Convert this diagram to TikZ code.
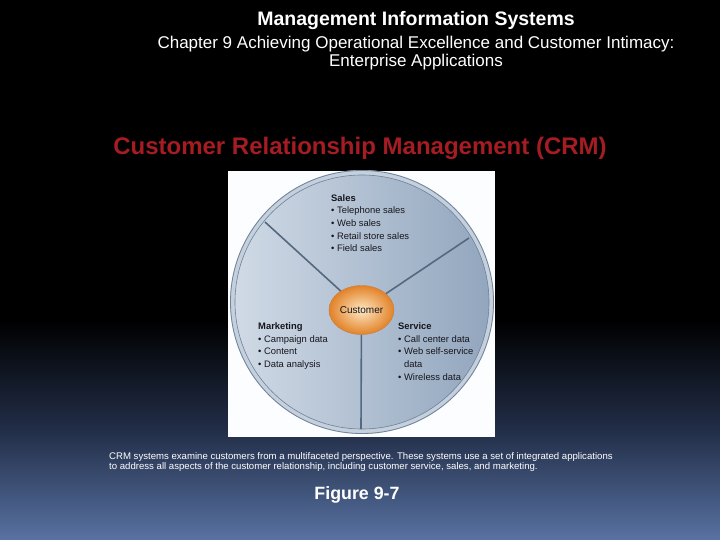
\documentclass[tikz,border=0pt]{standalone}
\usepackage{fontspec}
\setmainfont{Liberation Sans}
\usetikzlibrary{calc, shapes.geometric, positioning}
\definecolor{crmred}{RGB}{165,28,35}
\definecolor{bgmid}{RGB}{34,46,72}
\definecolor{bgbot}{RGB}{88,114,162}
\definecolor{panelwhite}{RGB}{252,253,255}
\definecolor{rimfill}{RGB}{196,208,222}
\definecolor{rimline}{RGB}{112,130,150}
\definecolor{disclight}{RGB}{208,218,230}
\definecolor{discdark}{RGB}{146,166,190}
\definecolor{divider}{RGB}{84,104,126}
\definecolor{custlight}{RGB}{253,232,195}
\definecolor{custdark}{RGB}{226,130,40}
\definecolor{custline}{RGB}{196,128,62}
\definecolor{textdark}{RGB}{22,22,28}
\tikzset{
    my-title/.style={
        text=white, inner sep=0pt, font=\bfseries\fontsize{19.5}{22}\selectfont
    },
    my-subtitle/.style={
        text=white, inner sep=0pt, font=\fontsize{17}{19}\selectfont
    },
    my-heading/.style={
        text=crmred, inner sep=0pt, font=\bfseries\fontsize{24}{27}\selectfont
    },
    my-block/.style={
        anchor=north west, align=left, inner sep=0pt, text=textdark,
        font=\fontsize{9.4}{12.7}\selectfont
    },
    my-customer/.style={
        ellipse, draw=custline, inner color=custlight, outer color=custdark,
        minimum width=65pt, minimum height=49pt, inner sep=0pt, text=textdark,
        font=\fontsize{10}{11}\selectfont
    },
    my-divider/.style={
        draw=divider, line width=1.6pt
    },
    my-caption/.style={
        anchor=north west, align=left, inner sep=0pt, text=white,
        font=\fontsize{9.6}{10}\selectfont
    },
}
\begin{document}
\begin{tikzpicture}[x=1pt, y=-1pt]

        % PAGE AND BACKGROUND
        \useasboundingbox (0,0) rectangle (720,540);
        \fill[black] (0,0) rectangle (720,321);
        \shade[top color=black, bottom color=bgmid] (0,320) rectangle (720,431);
        \shade[top color=bgmid, bottom color=bgbot] (0,430) rectangle (720,540);

        % TITLES
        \node[my-title]    (MIS)  at (416,21)  {Management Information Systems};
        \node[my-subtitle] (CHAP) at (416,44)  {Chapter 9 Achieving Operational Excellence and Customer Intimacy:};
        \node[my-subtitle] (ENT)  at (416,62)  {Enterprise Applications};
        \node[my-heading]  (CRM)  at (360,148) {Customer Relationship Management (CRM)};

        % FIGURE PANEL AND WHEEL
        \fill[panelwhite] (228,171) rectangle (495,437);
        \coordinate (C) at (362,302);
        \begin{scope}
            \clip (228,171) rectangle (495,437);
            \fill[rimfill] (C) circle (132);
            \draw[rimline, line width=.8pt] (C) circle (131.5);
            \shade[left color=disclight, right color=discdark] (C) circle (127);
            \draw[rimline, line width=.6pt] (C) circle (127);
        \end{scope}

        % RIM POINTS
        \coordinate (RIMNW) at ($(C) + (-97,-80)$);
        \coordinate (RIMNE) at ($(C) + (107,-64)$);
        \coordinate (RIMS)  at ($(C) + (-1,127)$);

        % CUSTOMER AND DIVIDERS
        \node[my-customer] (CUST) at (361.5,310) {Customer};
        \draw[my-divider] (CUST) -- (RIMNW);
        \draw[my-divider] (CUST) -- (RIMNE);
        \draw[my-divider] (CUST) -- (RIMS);

        % SEGMENT TEXTS
        \node[my-block] (SALES) at (331,194) {\textbf{Sales}\\• Telephone sales\\• Web sales\\• Retail store sales\\• Field sales};
        \node[my-block] (MKT)   at (258,322.5) {\textbf{Marketing}\\• Campaign data\\• Content\\• Data analysis};
        \node[my-block] (SERV)  at (398,322.5) {\textbf{Service}\\• Call center data\\• Web self-service\\\phantom{• }data\\• Wireless data};

        % CAPTION
        \node[my-caption] (CAP) at (109,452) {CRM systems examine customers from a multifaceted perspective. These systems use a set of integrated applications\\to address all aspects of the customer relationship, including customer service, sales, and marketing.};
        \node[text=white, inner sep=0pt, font=\bfseries\fontsize{17.8}{20}\selectfont] (FIG) at (357,495) {Figure 9-7};

    \end{tikzpicture}
\end{document}
